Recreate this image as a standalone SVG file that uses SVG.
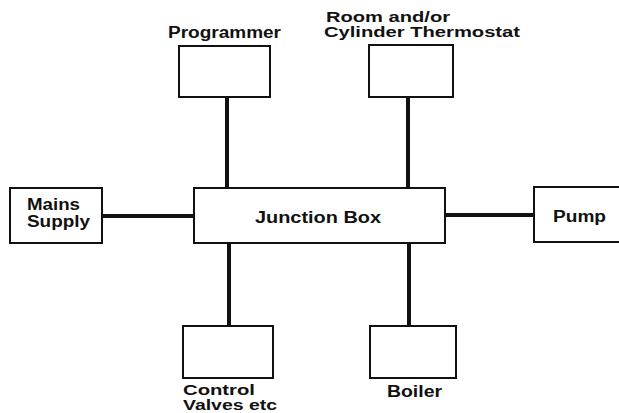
<svg xmlns="http://www.w3.org/2000/svg" width="619" height="413" viewBox="0 0 619 413">
<style>
.box{fill:#fff;stroke:#111;stroke-width:2}
.lbl{font-family:"Liberation Sans",Arial,sans-serif;font-weight:bold;font-size:16px;fill:#111}
.tight{font-size:14px}
.wire{stroke:#111;stroke-width:4;fill:none}
</style>
<rect width="619" height="413" fill="#fff"/>
<g id="connectors">
<line class="wire" x1="227" y1="97" x2="227" y2="188"/>
<line class="wire" x1="408" y1="97" x2="408" y2="188"/>
<line class="wire" x1="102" y1="216" x2="194" y2="216"/>
<line class="wire" x1="445" y1="215" x2="534" y2="215"/>
<line class="wire" x1="229" y1="243" x2="229" y2="326"/>
<line class="wire" x1="409" y1="243" x2="409" y2="326"/>
</g>
<g id="programmer">
<rect class="box" x="179" y="46" width="91" height="51"/>
<text class="lbl" x="168" y="38" textLength="113" lengthAdjust="spacingAndGlyphs">Programmer</text>
</g>
<g id="thermostat">
<rect class="box" x="369" y="45" width="84" height="52"/>
<text class="lbl tight" x="326" y="22" textLength="124" lengthAdjust="spacingAndGlyphs">Room and/or</text>
<text class="lbl tight" x="324" y="37" textLength="196" lengthAdjust="spacingAndGlyphs">Cylinder Thermostat</text>
</g>
<g id="junction">
<rect class="box" x="194" y="188" width="251" height="55"/>
<text class="lbl" x="255" y="223" textLength="126" lengthAdjust="spacingAndGlyphs">Junction Box</text>
</g>
<g id="mains">
<rect class="box" x="10" y="188" width="92" height="55"/>
<text class="lbl" x="27" y="210" textLength="53" lengthAdjust="spacingAndGlyphs">Mains</text>
<text class="lbl" x="27" y="227" textLength="63" lengthAdjust="spacingAndGlyphs">Supply</text>
</g>
<g id="pump">
<rect class="box" x="534" y="187" width="95" height="55"/>
<text class="lbl" x="553" y="222" textLength="53" lengthAdjust="spacingAndGlyphs">Pump</text>
</g>
<g id="valves">
<rect class="box" x="183" y="326" width="90" height="52"/>
<text class="lbl tight" x="183" y="395" textLength="72" lengthAdjust="spacingAndGlyphs">Control</text>
<text class="lbl tight" x="183" y="410" textLength="94" lengthAdjust="spacingAndGlyphs">Valves etc</text>
</g>
<g id="boiler">
<rect class="box" x="370" y="326" width="86" height="52"/>
<text class="lbl" x="387" y="397" textLength="55" lengthAdjust="spacingAndGlyphs">Boiler</text>
</g>
</svg>
